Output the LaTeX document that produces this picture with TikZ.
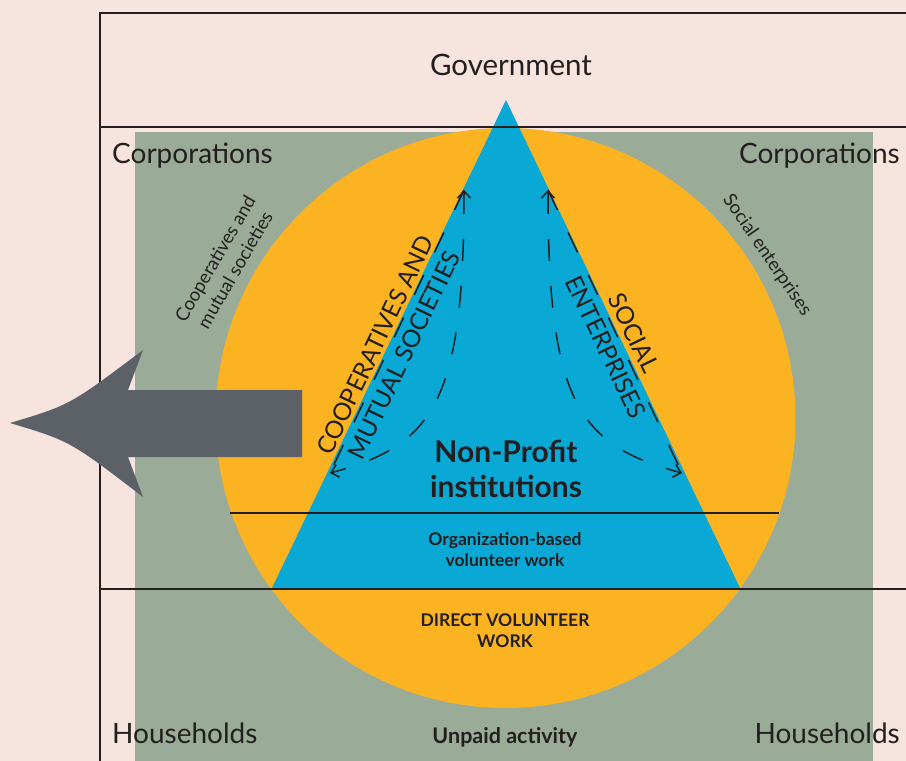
\documentclass[tikz,border=0pt]{standalone}
\usepackage{fontspec}
\setmainfont{Lato}
\usepackage{tikz}
\usetikzlibrary{arrows.meta, calc}
\definecolor{bgpink}{HTML}{F7E4DF}
\definecolor{sagegreen}{HTML}{9AAB98}
\definecolor{sunyellow}{HTML}{FBB321}
\definecolor{npblue}{HTML}{0AA8D4}
\definecolor{arrowgrey}{HTML}{5C6168}
\definecolor{inkdark}{HTML}{231F20}
\tikzstyle{sector} = [text=inkdark, inner sep=0pt, font=\fontsize{28}{32}\selectfont]
\tikzstyle{edgelabel} = [text=inkdark, inner sep=0pt, font=\fontsize{24.5}{28}\selectfont]
\tikzstyle{sidelabel} = [text=inkdark, inner sep=0pt, align=center, font=\fontsize{18.5}{23}\selectfont]
\tikzstyle{inlabel} = [text=inkdark, inner sep=0pt, align=center, font=\bfseries\fontsize{17.5}{20.5}\selectfont]
\tikzstyle{frameline} = [draw=inkdark, line width=1.5pt]
\tikzstyle{dashedge} = [draw=inkdark, line width=1.5pt, dash pattern=on 22pt off 25pt]
\tikzstyle{flow} = [dashedge, arrows={Straight Barb[length=7pt,width=13pt]-Straight Barb[length=7pt,width=13pt]}]

\begin{document}
\begin{tikzpicture}[x=1pt, y=-1pt]
        \useasboundingbox (0,0) rectangle (906,761);
        % sectors and rings
        \fill [bgpink] (0,0) rectangle (906,761);
        \fill [sagegreen] (135,132) rectangle (873,761);
        \fill [sunyellow] (505.5,418) circle (290pt);
        \fill [npblue] (506,100) -- (740,588) -- (272,588) -- cycle;

        % frame
        \draw [frameline] (906,13) -- (100,13) -- (100,761);
        \draw [frameline] (100,127) -- (906,127);
        \draw [frameline] (100,589) -- (906,589);
        \draw [draw=inkdark, line width=1.2pt] (230,513) -- (779,513);

        % labels
        \node (government) [sector, anchor=base, font=\fontsize{29.5}{32}\selectfont] at (511,75) {Government};
        \node (corp_left) [sector, anchor=base west] at (112,163) {Corporations};
        \node (corp_right) [sector, anchor=base east] at (900,163) {Corporations};
        \node (house_left) [sector, anchor=base west] at (112,743) {Households};
        \node (house_right) [sector, anchor=base east] at (900,743) {Households};
        \node (unpaid) [inlabel, anchor=base, font=\bfseries\fontsize{21.5}{24}\selectfont] at (505,743) {Unpaid activity};
        \node (nonprofit) [inlabel, anchor=base, font=\bfseries\fontsize{30}{35}\selectfont] at (506,497) {Non-Profit\\institutions};
        \node (org_work) [inlabel, anchor=base] at (505,566) {Organization-based\\volunteer work};
        \node (direct_work) [inlabel, anchor=base] at (505,647) {DIRECT VOLUNTEER\\WORK};
        \node (coop_small) [sidelabel, rotate=60] at (225,264) {Cooperatives and\\mutual societies};
        \node (social_small) [sidelabel, rotate=-55.6] at (767,255) {Social enterprises};
        \node (coop_out) [edgelabel, rotate=64.4] at (375,345) {COOPERATIVES AND};
        \node (coop_in) [edgelabel, rotate=64.4] at (404,355) {MUTUAL SOCIETIES};
        \node (social_out) [edgelabel, rotate=-64.4] at (634,333) {SOCIAL};
        \node (social_in) [edgelabel, rotate=-64.4] at (606,347) {ENTERPRISES};

        % flows along the edges
        \coordinate (coop_top) at (464,190);
        \coordinate (coop_bottom) at (330,473);
        \coordinate (social_top) at (548,190);
        \coordinate (social_bottom) at (682,473);
        \draw [dashedge] (coop_top) -- (coop_bottom);
        \draw [dashedge] (social_top) -- (social_bottom);
        \draw [flow] (coop_top) .. controls (464,400) and (435,445) .. (coop_bottom);
        \draw [flow] (social_top) .. controls (548,400) and (577,445) .. (social_bottom);

        % big arrow
        \fill [arrowgrey] (10,423) .. controls (70,405) .. (143,350) -- (128,390) -- (302,390)
            -- (302,457) -- (128,457) -- (143,497) .. controls (70,441) .. (10,423) -- cycle;
    \end{tikzpicture}
\end{document}
